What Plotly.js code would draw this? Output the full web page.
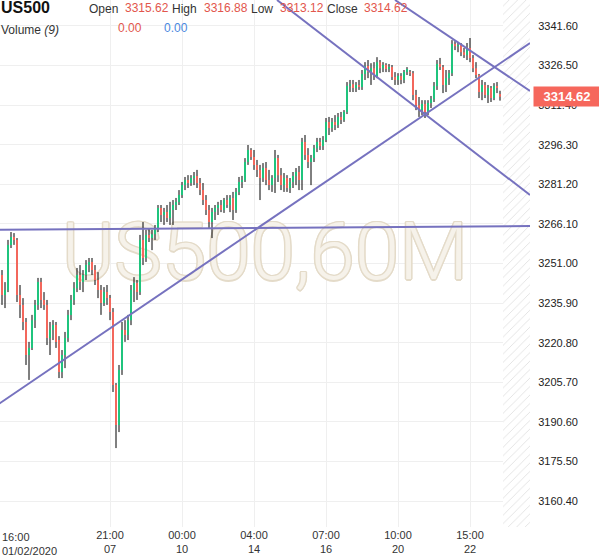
<!DOCTYPE html>
<html><head><meta charset="utf-8">
<script src="https://cdn.plot.ly/plotly-3.0.1.min.js"></script>
<style>html,body{margin:0;padding:0;background:#fff}#chart{width:599px;height:558px}</style>
</head><body><div id="chart"></div>
<script>
// ---- data (hourly bars, US500) ----
const open = [3246.6,3239.0,3240.9,3258.1,3261.1,3260.0,3239.0,3235.2,3228.7,3216.1,
3218.8,3229.4,3235.2,3243.9,3237.1,3235.2,3222.6,3225.6,3227.5,3221.8,
3209.6,3216.1,3222.6,3231.4,3237.1,3241.6,3246.6,3243.9,3246.6,3250.4,
3251.6,3248.5,3244.7,3240.9,3235.9,3240.1,3237.8,3232.5,3204.7,3189.4,
3210.4,3225.6,3223.7,3229.4,3240.9,3243.6,3240.1,3260.0,3253.1,3261.9,
3260.7,3262.2,3264.5,3272.2,3269.5,3270.6,3268.4,3271.4,3273.3,3274.5,
3277.1,3280.9,3282.8,3281.7,3283.6,3284.4,3281.7,3279.0,3275.2,3271.4,
3266.8,3270.6,3272.2,3273.3,3271.4,3275.2,3273.3,3276.0,3271.4,3278.3,
3282.1,3282.8,3289.7,3294.3,3291.6,3288.6,3286.7,3283.6,3287.4,3282.8,
3280.9,3283.6,3291.2,3284.7,3280.9,3283.6,3279.8,3282.1,3284.4,3285.9,
3282.8,3297.3,3292.4,3289.7,3291.2,3295.0,3297.3,3295.8,3298.1,3305.0,
3302.7,3305.0,3303.8,3306.9,3305.7,3308.8,3318.7,3319.4,3317.9,3319.1,
3318.3,3323.3,3326.3,3324.0,3325.5,3322.5,3327.8,3325.5,3326.7,3325.2,
3325.9,3322.1,3321.0,3322.5,3321.0,3324.0,3324.0,3323.6,3315.3,3311.4,
3309.5,3311.8,3308.8,3312.2,3313.7,3318.7,3327.1,3325.9,3319.1,3321.7,
3323.6,3334.7,3333.9,3334.3,3331.6,3330.5,3333.2,3329.4,3325.5,3322.9,
3316.4,3319.1,3315.3,3317.9,3314.1,3318.7,3315.62];
const high = [3248.5,3243.9,3260.0,3263.0,3262.6,3260.7,3242.8,3237.8,3230.2,3221.1,
3231.4,3237.1,3245.5,3245.5,3240.1,3237.1,3228.7,3229.4,3228.7,3223.3,
3218.0,3224.9,3233.3,3239.0,3243.9,3249.3,3250.4,3248.5,3252.3,3253.1,
3253.1,3250.4,3247.7,3242.8,3242.0,3242.8,3239.0,3234.0,3205.4,3212.3,
3228.7,3229.4,3231.4,3242.8,3245.8,3244.7,3261.9,3266.8,3263.8,3264.5,
3263.8,3265.7,3273.3,3273.3,3272.2,3273.3,3274.5,3275.2,3276.0,3279.0,
3282.1,3284.0,3284.7,3284.7,3285.9,3286.7,3283.6,3281.7,3277.1,3273.3,
3272.2,3273.3,3274.5,3275.2,3276.0,3277.1,3277.1,3278.3,3279.8,3284.0,
3284.4,3291.2,3296.2,3295.0,3294.3,3290.5,3288.6,3289.3,3289.7,3286.7,
3284.7,3294.3,3292.4,3287.4,3285.5,3284.7,3283.6,3285.9,3287.4,3288.2,
3298.9,3300.0,3295.0,3292.4,3296.2,3298.9,3298.9,3299.6,3306.5,3306.9,
3306.5,3307.6,3308.4,3308.8,3309.5,3320.2,3321.0,3321.0,3320.2,3321.0,
3324.8,3327.8,3328.6,3327.4,3327.8,3329.7,3328.6,3327.8,3327.4,3327.1,
3326.7,3324.0,3323.6,3323.6,3324.8,3325.9,3324.8,3324.4,3317.2,3314.5,
3313.3,3313.3,3313.3,3314.9,3320.2,3328.6,3329.4,3326.7,3324.8,3324.8,
3336.2,3335.8,3335.5,3335.1,3333.2,3335.1,3337.0,3330.5,3327.8,3323.3,
3321.0,3320.2,3319.1,3318.7,3319.8,3320.2,3316.88];
const low = [3235.2,3234.0,3240.1,3256.9,3258.1,3236.3,3230.2,3225.6,3212.3,3206.6,
3218.0,3226.4,3233.3,3234.0,3233.3,3219.9,3216.1,3221.8,3218.8,3207.3,
3207.3,3211.1,3221.1,3229.4,3235.2,3240.1,3240.9,3240.1,3244.7,3247.7,
3246.6,3242.8,3237.8,3231.4,3234.8,3235.2,3229.4,3202.0,3180.6,3186.7,
3208.5,3221.1,3221.8,3227.5,3236.3,3237.1,3239.0,3250.4,3251.6,3259.2,
3256.1,3260.0,3263.0,3266.8,3265.7,3266.8,3265.7,3265.7,3271.4,3273.3,
3276.0,3279.0,3279.8,3280.6,3280.9,3279.8,3277.1,3273.3,3269.5,3264.5,
3260.7,3267.6,3269.5,3270.6,3270.3,3272.2,3270.6,3267.6,3270.3,3277.1,
3279.8,3282.1,3288.6,3290.5,3286.7,3284.0,3275.2,3282.1,3280.9,3279.0,
3278.3,3277.9,3282.1,3279.0,3278.3,3278.3,3277.9,3279.8,3280.9,3279.0,
3279.0,3290.5,3287.4,3280.9,3289.7,3293.5,3294.3,3294.3,3297.3,3300.0,
3301.2,3301.9,3302.7,3304.2,3305.0,3308.0,3316.4,3316.4,3316.4,3317.2,
3317.2,3321.0,3321.7,3319.1,3321.0,3321.7,3323.6,3324.0,3324.0,3324.0,
3321.0,3319.1,3319.1,3319.4,3319.8,3322.9,3322.5,3313.3,3309.5,3306.9,
3307.6,3306.5,3307.6,3310.3,3312.6,3317.2,3324.8,3316.0,3316.4,3319.1,
3322.5,3332.4,3331.6,3330.1,3329.4,3328.6,3327.8,3324.0,3321.7,3314.1,
3313.3,3314.1,3312.2,3312.6,3313.3,3316.0,3313.12];
const close = [3239.0,3240.9,3258.1,3261.1,3260.0,3239.0,3235.2,3228.7,3216.1,3218.8,
3229.4,3235.2,3243.9,3237.1,3235.2,3222.6,3225.6,3227.5,3221.1,3209.6,
3216.1,3222.6,3231.4,3237.1,3241.6,3246.6,3243.9,3246.6,3250.4,3251.6,
3248.5,3244.7,3240.9,3235.9,3240.1,3237.8,3232.5,3204.7,3189.4,3210.4,
3225.6,3223.7,3229.4,3240.9,3243.6,3240.1,3260.0,3253.1,3261.9,3260.7,
3262.2,3264.5,3272.2,3269.5,3270.6,3268.4,3271.4,3273.3,3274.5,3277.1,
3280.9,3282.8,3281.7,3283.6,3284.4,3281.7,3279.0,3275.2,3271.4,3266.8,
3270.6,3272.2,3273.3,3271.4,3275.2,3273.3,3276.0,3271.4,3278.3,3282.1,
3282.8,3289.7,3294.3,3291.6,3288.6,3286.7,3283.6,3287.4,3282.8,3280.9,
3283.6,3291.2,3284.7,3280.9,3283.6,3279.8,3282.1,3284.4,3285.9,3282.8,
3297.3,3292.4,3289.7,3291.2,3295.0,3297.3,3295.8,3298.1,3305.0,3302.7,
3305.0,3303.8,3306.9,3305.7,3308.8,3318.7,3319.4,3317.9,3319.1,3318.3,
3323.3,3326.3,3324.0,3325.5,3322.5,3327.8,3325.5,3326.7,3325.2,3325.9,
3322.1,3321.0,3322.5,3321.0,3324.0,3325.2,3323.6,3315.3,3311.4,3309.5,
3311.8,3308.8,3312.2,3313.7,3318.7,3327.1,3325.9,3319.1,3321.7,3323.6,
3334.7,3333.9,3334.3,3331.6,3330.5,3333.2,3329.4,3325.5,3322.9,3316.4,
3319.1,3315.3,3317.9,3314.1,3318.7,3317.9,3314.62];

// x-axis labels (bar index -> label)
const tickIdx  = [36, 60, 84, 108, 132, 156];
const tickText = ["21:00<br>07", "00:00<br>10", "04:00<br>14", "07:00<br>16", "10:00<br>20", "15:00<br>22"];
const firstLabel = "16:00<br>01/02/2020";
// y-axis tick values
const yTicks = [3160.4,3175.5,3190.6,3205.7,3220.8,3235.9,3251.0,3266.1,3281.2,3296.3,3311.4,3326.5,3341.6];
// trend lines: [index, price] endpoints
const trendH    = [[-1, 3263.9], [176, 3265.3]];
const trendUp   = [[-1, 3197.5], [176, 3335.1]];
const trendDn1  = [[91.67, 3351.5], [176, 3277.1]];
const trendDn2  = [[131, 3351.5], [176, 3316.8]];
const symbol = "US500", volumeLabel = "Volume", volumePeriod = 9;
const volValues = [0.00, 0.00];
const watermark = "US500,60M";

// ---- styling / layout ----
const GREEN = '#1fc47d', RED = '#f3675c', LINE = 'rgb(118,114,191)';
const W = 530, H = 527;
const xMin = -2/3, xMax = 176, yMin = 3150.5, yMax = 3351.5;
const n = open.length;
const xs = open.map((_, k) => k);
const pxX = p => xMin + p * (xMax - xMin) / W;
const pxY = p => yMax - p * (yMax - yMin) / H;

const wx = [], wy = [];
for (let k = 0; k < n; k++) { wx.push(k, k, null); wy.push(low[k], high[k], null); }
const bodyBase = open.map((o, k) => Math.min(o, close[k]));
const bodyH = open.map((o, k) => Math.max(Math.abs(close[k] - o), 0.4));
const bodyCol = open.map((o, k) => close[k] >= o ? GREEN : RED);

const traces = [
  { type: 'bar', x: [(n + xMax) / 2], y: [yMax - yMin], base: [yMin], width: [xMax - n],
    marker: { color: 'white', line: { width: 0 },
      pattern: { shape: '/', fgcolor: '#e2e2e2', bgcolor: 'white', size: 6, solidity: 0.15 } },
    hoverinfo: 'skip', xaxis: 'x', yaxis: 'y' },
  { type: 'scatter', mode: 'text', x: [pxX(265)], y: [pxY(259)], text: [watermark],
    textposition: 'middle center',
    textfont: { family: 'Roboto, Liberation Sans, sans-serif', size: 80, color: '#f6f2ea', weight: 300,
      shadow: '1.5px 0 0 #e4dbc9, -1.5px 0 0 #e4dbc9, 0 1.5px 0 #e4dbc9, 0 -1.5px 0 #e4dbc9, 1px 1px 0 #e4dbc9, -1px -1px 0 #e4dbc9, 1px -1px 0 #e4dbc9, -1px 1px 0 #e4dbc9' },
    hoverinfo: 'skip', xaxis: 'x', yaxis: 'y' },
  { type: 'scatter', mode: 'lines', x: wx, y: wy, connectgaps: false,
    line: { color: '#000', width: 1 }, hoverinfo: 'skip', xaxis: 'x', yaxis: 'y' },
  { type: 'bar', x: xs, y: bodyH, base: bodyBase, width: 0.6667,
    marker: { color: bodyCol, line: { width: 0 } }, hoverinfo: 'skip', xaxis: 'x2', yaxis: 'y2' }
];

const ann = [];
const fontBase = 'Liberation Sans, Arial, sans-serif';
function hdr(text, px, py, color, size) {
  ann.push({ xref: 'paper', yref: 'paper', x: px / W, y: 1 - py / H, xanchor: 'left', yanchor: 'middle',
    text: text, showarrow: false, font: { family: fontBase, size: size || 12, color: color } });
}
const lastO = open[n-1], lastH = high[n-1], lastL = low[n-1], lastC = close[n-1];
hdr('<b>' + symbol + '</b>', -1, 8, '#111', 16);
hdr('Open', 87, 9, '#333'); hdr(lastO.toFixed(2), 123, 8, '#e2564c');
hdr('High', 170, 9, '#333'); hdr(lastH.toFixed(2), 202, 8, '#e2564c');
hdr('Low', 249, 9, '#333'); hdr(lastL.toFixed(2), 278, 8, '#e2564c');
hdr('Close', 325, 9, '#333'); hdr(lastC.toFixed(2), 362, 8, '#e2564c');
hdr(volumeLabel + ' <i>(' + volumePeriod + ')</i>', -1, 30, '#333');
hdr(volValues[0].toFixed(2), 116, 28, '#e2564c');
hdr(volValues[1].toFixed(2), 162, 28, '#4a88e0');
// first x label, left aligned
ann.push({ xref: 'paper', yref: 'paper', x: 0, y: 0, xanchor: 'left', yanchor: 'top', yshift: -2, align: 'left',
  text: firstLabel, showarrow: false, font: { family: fontBase, size: 11, color: '#333' } });
// last price badge
ann.push({ xref: 'paper', yref: 'y', x: 1, y: lastC, xanchor: 'left', yanchor: 'middle', xshift: 3,
  text: '<b>' + lastC.toFixed(2) + '</b>', showarrow: false, bgcolor: '#f6675c', borderpad: 2, width: 62,
  font: { family: fontBase, size: 13, color: '#fff' } });

const mkLine = (pts) => ({ type: 'line', xref: 'x', yref: 'y', layer: 'above',
  x0: pts[0][0], y0: pts[0][1], x1: pts[1][0], y1: pts[1][1], line: { color: LINE, width: 2 } });

const layout = {
  width: 599, height: 558, margin: { l: 0, r: 69, t: 0, b: 31, pad: 0 },
  paper_bgcolor: '#fff', plot_bgcolor: '#fff', showlegend: false, barmode: 'overlay',
  font: { family: fontBase, size: 11, color: '#333' },
  xaxis: { range: [xMin, xMax], tickvals: tickIdx, ticktext: tickText, showgrid: true, gridcolor: '#efefef',
    gridwidth: 1, zeroline: false, showline: false, ticks: '', tickfont: { size: 11, color: '#333' },
    fixedrange: true, rangeslider: { visible: false } },
  yaxis: { range: [yMin, yMax], side: 'right', tickvals: yTicks, ticktext: yTicks.map(v => v.toFixed(2)),
    showgrid: true, gridcolor: '#efefef', zeroline: false, showline: false, ticks: 'outside', ticklen: 5,
    tickcolor: 'rgba(0,0,0,0)', tickfont: { size: 11, color: '#222' }, fixedrange: true },
  xaxis2: { overlaying: 'x', range: [xMin, xMax], visible: false, showgrid: false, zeroline: false, fixedrange: true },
  yaxis2: { overlaying: 'y', range: [yMin, yMax], visible: false, showgrid: false, zeroline: false, fixedrange: true },
  shapes: [mkLine(trendH), mkLine(trendUp), mkLine(trendDn1), mkLine(trendDn2)],
  annotations: ann
};
Plotly.newPlot('chart', traces, layout, { displayModeBar: false, staticPlot: true });
</script></body></html>
